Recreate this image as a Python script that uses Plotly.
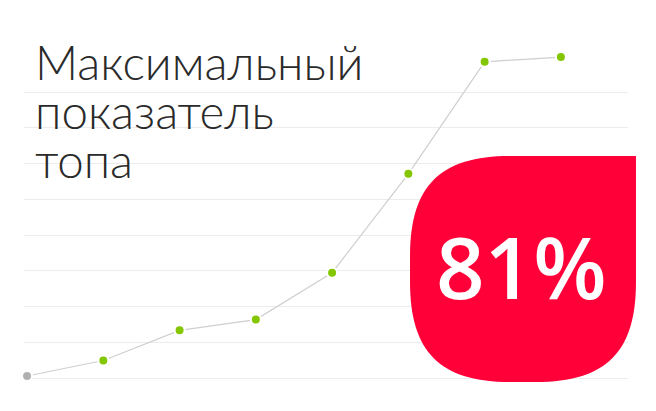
import plotly.graph_objects as go

# data
steps = [0, 1, 2, 3, 4, 5, 6, 7]
top_share = [0.5, 4.4, 12.0, 14.7, 26.5, 51.4, 79.6, 80.8]
marker_colors = ['#b0b0b0'] + ['#84c600'] * 7
grid_ticks = [0, 9, 18, 27, 36, 45, 54, 63, 72]
title_lines = ['Максимальный', 'показатель', 'топа']
badge_text = '81%'

W, H = 656, 411
OFF = 8  # page body margin
L, R, T, B = 16, 36, 32, 24


def px(x, y):
    # page pixel -> paper coords
    fx, fy = x - OFF, y - OFF
    return (fx - L) / (W - L - R), (H - B - fy) / (H - T - B)


def badge_path(x0, y0, x1, y1, r, k):
    c = r * (1 - k)
    pts = [
        ('M', [(x1, y0)]),
        ('L', [(x1, y1 - r)]),
        ('C', [(x1, y1 - c), (x1 - c, y1), (x1 - r, y1)]),
        ('L', [(x0 + r, y1)]),
        ('C', [(x0 + c, y1), (x0, y1 - c), (x0, y1 - r)]),
        ('L', [(x0, y0 + r)]),
        ('C', [(x0, y0 + c), (x0 + c, y0), (x0 + r, y0)]),
    ]
    out = ''
    for cmd, coords in pts:
        out += cmd + ' ' + ' '.join('%.4f,%.4f' % px(a, b) for a, b in coords) + ' '
    return out + 'Z'


fig = go.Figure()

fig.add_trace(go.Scatter(
    x=steps,
    y=top_share,
    mode='lines+markers',
    line=dict(color='#cfcfcf', width=1.2),
    marker=dict(color=marker_colors, size=10, line=dict(color='white', width=2)),
    cliponaxis=False,
    hoverinfo='skip',
    showlegend=False
))

fig.add_shape(
    type='path',
    xref='paper', yref='paper',
    path=badge_path(410, 156, 636, 382, 100, 0.7),
    fillcolor='#ff0039',
    line=dict(width=0),
    layer='above'
)

cx, cy = px(521, 266)
fig.add_annotation(
    x=cx, y=cy, xref='paper', yref='paper',
    text=badge_text, showarrow=False,
    xanchor='center', yanchor='middle',
    font=dict(family='Open Sans', size=85, color='white', weight=600)
)

# title lines as separate annotations so the line spacing matches
for line, ycen in zip(title_lines, [61, 110, 159]):
    tx, ty = px(33, ycen)
    fig.add_annotation(
        x=tx, y=ty, xref='paper', yref='paper',
        text=line, showarrow=False,
        xanchor='left', yanchor='middle', height=44,
        font=dict(family='Lato', size=47.5, color='#2a2a2a', weight=300)
    )

fig.update_layout(
    width=W, height=H,
    margin=dict(l=L, r=R, t=T, b=B),
    paper_bgcolor='white',
    plot_bgcolor='white',
    xaxis=dict(range=[-0.04, 7.88], showgrid=False, zeroline=False,
               showticklabels=False, ticks=''),
    yaxis=dict(range=[-4.28, 85.09], tickvals=grid_ticks, showgrid=True,
               gridcolor='#ececec', gridwidth=1, zeroline=False,
               showticklabels=False, ticks=''),
)

fig.write_html('out.html')
